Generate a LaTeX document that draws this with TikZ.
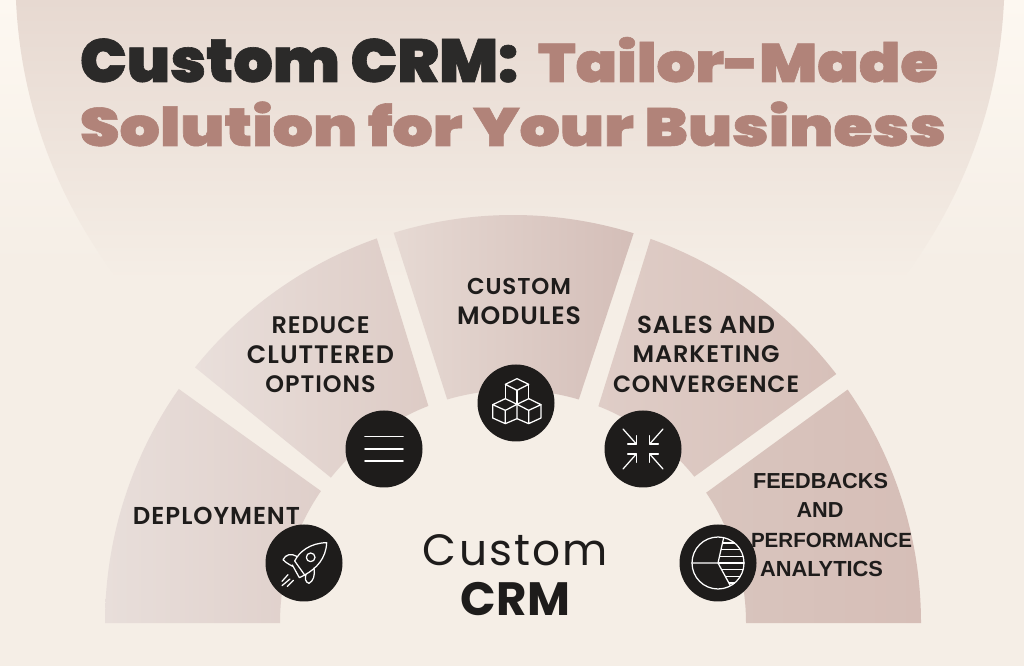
\documentclass[tikz,border=0pt]{standalone}
\usepackage{fontspec}
\usepackage{graphicx}
\setmainfont{Poppins}
\newfontfamily\titlefont[FakeBold=1]{Poppins Black}
\newfontfamily\labelfont[LetterSpace=4]{Poppins SemiBold}
\newfontfamily\arialbold{Liberation Sans Bold}
\newfontfamily\customfont[LetterSpace=5]{Poppins}
\newfontfamily\crmfont{Poppins Bold}
\usetikzlibrary{calc}
\definecolor{bgcol}{HTML}{F5EEE6}
\definecolor{bgtop}{HTML}{FDF8F1}
\definecolor{archcol}{HTML}{E7D9D1}
\definecolor{ink}{HTML}{1E1C1B}
\definecolor{titleink}{HTML}{2B2A29}
\definecolor{rose}{HTML}{B18379}
\tikzset{
 lbl/.style={inner sep=0pt,anchor=base,text=ink},
 badge/.style={circle,fill=ink,minimum size=77pt,inner sep=0pt},
 icon/.style={draw=white,line width=1.25pt,line join=round,line cap=round},
}
\newcommand{\sector}[6]{% a1 a2 inner-a1 inner-a2 leftcol rightcol
 \definecolor{sl}{HTML}{#5}\definecolor{sr}{HTML}{#6}%
 \shade[left color=sl,right color=sr] ($(C)+(#1:408)$) arc[start angle=#1,end angle=#2,radius=408] -- ($(C)+(#4:233)$) arc[start angle=#4,end angle=#3,radius=233] -- cycle;}
\begin{document}
\begin{tikzpicture}[x=1pt,y=1pt]
\useasboundingbox (0,0) rectangle (1024,666);
\fill[bgcol] (0,0) rectangle (1024,400);
\shade[top color=bgtop,bottom color=bgcol] (0,666) rectangle (1024,400);
\coordinate (C) at (513,43);
\begin{scope}
 \clip (510,688) circle[radius=494.5];
 \shade[top color=archcol,bottom color=bgcol] (0,666) rectangle (1024,385);
\end{scope}
\sector{180}{145}{180}{145.5}{E8DEDA}{DFCFCA}
\sector{141.2}{109.5}{141.4}{111.3}{E9DFDB}{DDCBC5}
\sector{107}{72.8}{106.4}{73.6}{E6D9D3}{D4BEB8}
\sector{70.3}{37.6}{68.5}{38.9}{DFCDC7}{D7C0B9}
\sector{34.9}{0}{34}{0}{D9C5BE}{D6BEB7}
% text
\node[lbl] (t1) at (299,584) {\resizebox{438pt}{43.5pt}{\titlefont\textcolor{titleink}{Custom CRM:}}};
\node[lbl] (t2) at (738,584) {\resizebox{400pt}{45pt}{\titlefont\textcolor{rose}{Tailor-Made}}};
\node[lbl] (t3) at (513,520) {\resizebox{866pt}{44.5pt}{\titlefont\textcolor{rose}{Solution for Your Business}}};
\node[lbl] (a1) at (216.5,141) {\resizebox{167pt}{!}{\labelfont DEPLOYMENT}};
\node[lbl] (b1) at (320.5,332.5) {\resizebox{98pt}{!}{\labelfont REDUCE}};
\node[lbl] (b2) at (320.5,302) {\resizebox{147pt}{!}{\labelfont CLUTTERED}};
\node[lbl] (b3) at (320.5,273.5) {\resizebox{110pt}{!}{\labelfont OPTIONS}};
\node[lbl] (c1) at (519,371.5) {\resizebox{104pt}{!}{\labelfont CUSTOM}};
\node[lbl] (c2) at (519,341) {\resizebox{124pt}{!}{\labelfont MODULES}};
\node[lbl] (d1) at (706,332.5) {\resizebox{138pt}{!}{\labelfont SALES AND}};
\node[lbl] (d2) at (706,303.5) {\resizebox{147pt}{!}{\labelfont MARKETING}};
\node[lbl] (d3) at (706,273.5) {\resizebox{186pt}{!}{\labelfont CONVERGENCE}};
\node[lbl] (m1) at (515.5,100) {\resizebox{185pt}{!}{\customfont Custom}};
\node[lbl] (m2) at (515.5,51) {\resizebox{109pt}{!}{\crmfont CRM}};
% badges
\node[badge] (k1) at (304,103) {};
\node[badge] (k2) at (384,217) {};
\node[badge] (k3) at (516,263) {};
\node[badge] (k4) at (643,217) {};
\node[badge] (k5) at (718,103) {};
\node[lbl] (e1) at (820.5,177) {\resizebox{135pt}{!}{\arialbold FEEDBACKS}};
\node[lbl] (e2) at (820,148) {\resizebox{47pt}{!}{\arialbold AND}};
\node[lbl] (e3) at (831.5,118) {\resizebox{161pt}{!}{\arialbold PERFORMANCE}};
\node[lbl] (e4) at (821.5,89) {\resizebox{123pt}{!}{\arialbold ANALYTICS}};
% menu
\begin{scope}[shift={(k2.center)},y=-1pt]
 \foreach \yy in {-12.3,0,12.3} \draw[icon,line width=1.6pt] (-19,\yy) -- (19,\yy);
\end{scope}
% cubes
\begin{scope}[shift={(k3.center)},x=.3333pt,y=-.3333pt,icon]
 \draw (3,-73) -- (38,-56) -- (3,-38) -- (-32,-56) -- cycle;
 \draw (-32,-56) -- (-32,-13) (38,-56) -- (38,-13) (3,-38) -- (3,4);
 \draw (-32,-13) -- (3,4) -- (-32,22) -- (-70,5) -- cycle;
 \draw (-70,5) -- (-70,45) -- (-32,62) -- (3,47) -- (3,4) (-32,22) -- (-32,62);
 \draw (38,-13) -- (75,5) -- (38,22) -- (3,4) -- cycle;
 \draw (75,5) -- (75,45) -- (38,62) -- (3,47) (38,22) -- (38,62);
\end{scope}
% arrows
\begin{scope}[shift={(k4.center)},x=.3333pt,y=-.3333pt,icon]
 \foreach \sx/\sy in {1/1,-1/1,1/-1,-1/-1}{
 \draw (\sx*-60,\sy*-60) -- (\sx*-20,\sy*-15);
 \draw (\sx*-46,\sy*-15) -- (\sx*-20,\sy*-15) -- (\sx*-20,\sy*-40);}
\end{scope}
% pie
\begin{scope}[shift={(k5.center)},x=.3333pt,y=-.3333pt,icon]
 \begin{scope}
 \clip (0,0) -- (17,-76) -- (90,-76) -- (90,76) -- (37,68) -- cycle;
 \foreach \yy in {-60,-40,-20,0,20,40,60} \draw ({-sqrt(78*78-\yy*\yy)},\yy) -- ({sqrt(78*78-\yy*\yy)},\yy);
 \end{scope}
 \draw (0,0) circle[radius=78];
 \draw (-78,0) -- (0,0) -- (17,-76) (0,0) -- (37,68);
\end{scope}
% rocket
\begin{scope}[shift={(k1.center)},x=.3333pt,y=-.3333pt,icon]
 \draw (68,-61) .. controls (18,-60) and (-14,-34) .. (-28,-6) -- (2,36) .. controls (38,16) and (66,-14) .. (68,-61) -- cycle;
 \draw (20,-17) circle[radius=13];
 \draw (-22,-20) .. controls (-38,-30) and (-55,-26) .. (-63,-10) .. controls (-56,-2) and (-45,4) .. (-34,10);
 \draw (6,34) .. controls (2,46) and (4,58) .. (15,61) .. controls (28,55) and (34,35) .. (30,15);
 \draw (-35,6) -- (-14,44) -- (2,36);
 \draw (-48,35) -- (-66,55) (-42,48) -- (-66,68) (-32,52) -- (-50,70);
\end{scope}
\end{tikzpicture}
\end{document}
